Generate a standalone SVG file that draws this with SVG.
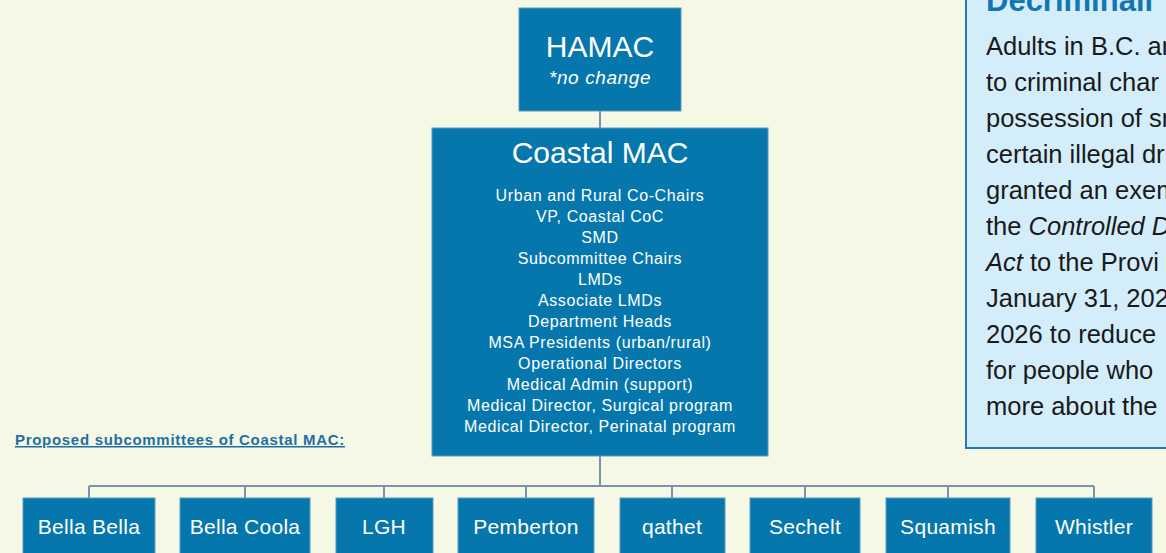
<svg xmlns="http://www.w3.org/2000/svg" width="1166" height="553" viewBox="0 0 1166 553">
<style>
text{font-family:"Liberation Sans","Open Sans",sans-serif}
.box{fill:#0677ad;stroke:#5a9cc6;stroke-width:1}
.lbl{font-size:21px;fill:#ffffff;text-anchor:middle;letter-spacing:0.3px}
.li{font-size:16px;fill:#ffffff;text-anchor:middle;letter-spacing:0.6px}
.con{stroke:#7895ad;stroke-width:2;fill:none}
.body{font-size:25.5px;fill:#1a1a1a}
</style>
<rect width="1166" height="553" fill="#f5f8e5"/>
<g id="info-panel">
<rect x="966" y="-10" width="220" height="458" fill="#d3eefa" stroke="#1f7ab4" stroke-width="2"/>
<text x="986" y="11" font-size="31" font-weight="bold" fill="#1376b0">Decriminali</text>
<text class="body" x="986" y="55">Adults in B.C. ar</text>
<text class="body" x="986" y="91">to criminal char</text>
<text class="body" x="986" y="127">possession of sm</text>
<text class="body" x="986" y="163">certain illegal dr</text>
<text class="body" x="986" y="199">granted an exem</text>
<text class="body" x="986" y="235">the <tspan font-style="italic">Controlled D</tspan></text>
<text class="body" x="986" y="271"><tspan font-style="italic">Act</tspan> to the Provi</text>
<text class="body" x="986" y="307">January 31, 202</text>
<text class="body" x="986" y="343">2026 to reduce</text>
<text class="body" x="986" y="379">for people who</text>
<text class="body" x="986" y="415">more about the</text>
</g>
<g id="connectors">
<line class="con" x1="600" y1="111" x2="600" y2="128"/>
<line class="con" x1="600" y1="456" x2="600" y2="486"/>
<line class="con" x1="89" y1="486" x2="1094" y2="486"/>
<line class="con" x1="89" y1="486" x2="89" y2="498"/>
<line class="con" x1="245" y1="486" x2="245" y2="498"/>
<line class="con" x1="384" y1="486" x2="384" y2="498"/>
<line class="con" x1="526" y1="486" x2="526" y2="498"/>
<line class="con" x1="672" y1="486" x2="672" y2="498"/>
<line class="con" x1="805" y1="486" x2="805" y2="498"/>
<line class="con" x1="948" y1="486" x2="948" y2="498"/>
<line class="con" x1="1094" y1="486" x2="1094" y2="498"/>
</g>
<g id="hamac">
<rect class="box" x="519" y="8" width="162" height="103"/>
<text x="600" y="57" font-size="30" fill="#fff" text-anchor="middle">HAMAC</text>
<text x="600" y="84" font-size="19" fill="#fff" font-style="italic" text-anchor="middle" letter-spacing="0.6">*no change</text>
</g>
<g id="coastal-mac">
<rect class="box" x="432" y="128" width="336" height="328"/>
<text x="600" y="163" font-size="30" fill="#fff" text-anchor="middle">Coastal MAC</text>
<text class="li" x="600" y="200.7">Urban and Rural Co-Chairs</text>
<text class="li" x="600" y="221.7">VP, Coastal CoC</text>
<text class="li" x="600" y="242.7">SMD</text>
<text class="li" x="600" y="263.7">Subcommittee Chairs</text>
<text class="li" x="600" y="284.7">LMDs</text>
<text class="li" x="600" y="305.7">Associate LMDs</text>
<text class="li" x="600" y="326.7">Department Heads</text>
<text class="li" x="600" y="347.7">MSA Presidents (urban/rural)</text>
<text class="li" x="600" y="368.7">Operational Directors</text>
<text class="li" x="600" y="389.7">Medical Admin (support)</text>
<text class="li" x="600" y="410.7">Medical Director, Surgical program</text>
<text class="li" x="600" y="431.7">Medical Director, Perinatal program</text>
</g>
<g id="subcommittees-heading">
<text x="15" y="445" font-size="15" font-weight="bold" fill="#1f6fa5" text-decoration="underline" letter-spacing="0.7">Proposed subcommittees of Coastal MAC:</text>
</g>
<g id="bella-bella"><rect class="box" x="23" y="498" width="132" height="70"/><text class="lbl" x="89" y="534">Bella Bella</text></g>
<g id="bella-coola"><rect class="box" x="180" y="498" width="130" height="70"/><text class="lbl" x="245" y="534">Bella Coola</text></g>
<g id="lgh"><rect class="box" x="336" y="498" width="97" height="70"/><text class="lbl" x="384" y="534">LGH</text></g>
<g id="pemberton"><rect class="box" x="458" y="498" width="136" height="70"/><text class="lbl" x="526" y="534">Pemberton</text></g>
<g id="qathet"><rect class="box" x="620" y="498" width="105" height="70"/><text class="lbl" x="672" y="534">qathet</text></g>
<g id="sechelt"><rect class="box" x="750" y="498" width="110" height="70"/><text class="lbl" x="805" y="534">Sechelt</text></g>
<g id="squamish"><rect class="box" x="886" y="498" width="124" height="70"/><text class="lbl" x="948" y="534">Squamish</text></g>
<g id="whistler"><rect class="box" x="1036" y="498" width="116" height="70"/><text class="lbl" x="1094" y="534">Whistler</text></g>
</svg>
